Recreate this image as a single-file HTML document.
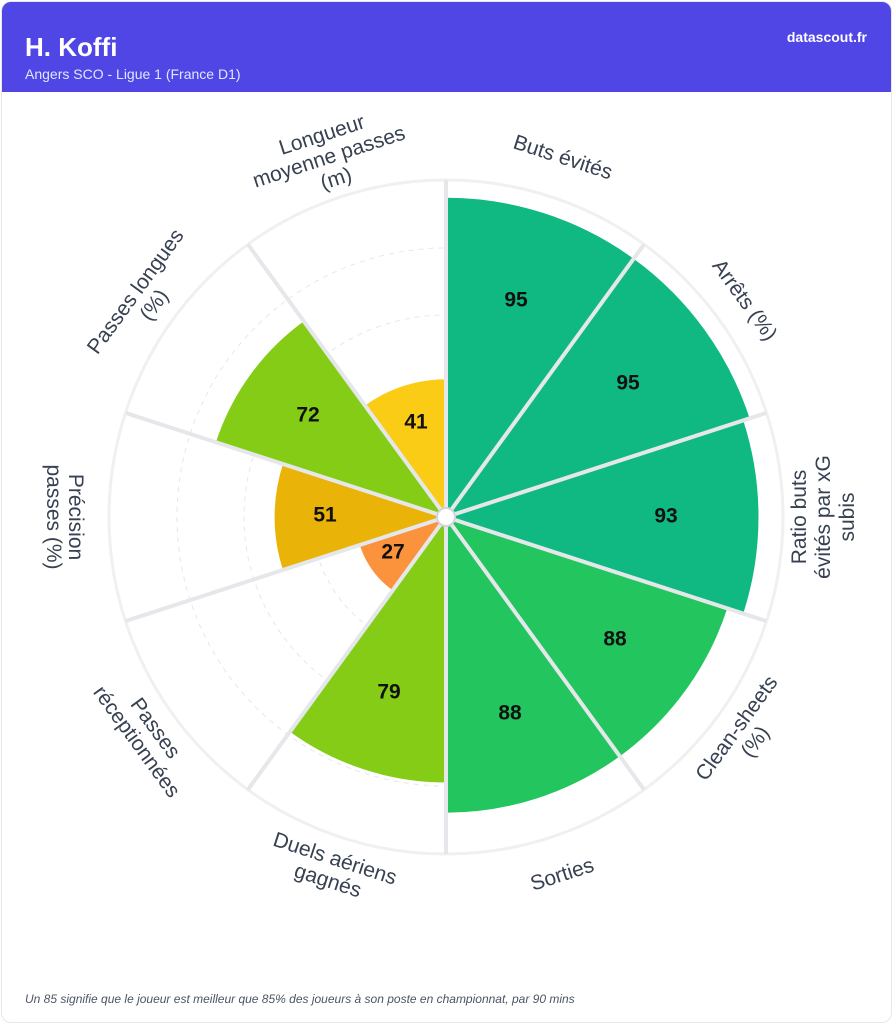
<!DOCTYPE html>
<html><head><meta charset="utf-8"><style>
html,body{margin:0;padding:0;background:#fff;width:893px;height:1024px;overflow:hidden;font-family:"Liberation Sans",Arial,sans-serif}
.card{position:absolute;left:1px;top:1px;width:889px;height:1020px;border:1px solid #e5e7eb;border-radius:10px;overflow:hidden;background:#fff}
.hd{position:absolute;left:0;top:0;width:889px;height:90px;background:#4f46e5;color:#fff}
.t{position:absolute;left:23px;top:30px;font-size:26px;font-weight:bold}
.s{position:absolute;left:23px;top:64px;font-size:14px;color:#e0e7ff}
.d{position:absolute;right:24px;top:27px;font-size:14px;font-weight:bold}
.f{position:absolute;left:23px;top:990px;font-size:12px;font-style:italic;color:#4b5563}
svg{position:absolute;left:0;top:0}
</style></head><body>
<div class="card">
<div class="hd"><div class="t">H. Koffi</div><div class="s">Angers SCO - Ligue 1 (France D1)</div><div class="d">datascout.fr</div></div>
<div class="f">Un 85 signifie que le joueur est meilleur que 85% des joueurs à son poste en championnat, par 90 mins</div>
</div>
<svg width="893" height="1024" viewBox="0 0 893 1024">
<circle cx="446" cy="517" r="337" fill="#fff" stroke="#f0f0f0" stroke-width="3"/>
<g fill="none" stroke="#e5e7eb" stroke-width="1" stroke-dasharray="5 5">
<circle cx="446" cy="517" r="67"/><circle cx="446" cy="517" r="134"/><circle cx="446" cy="517" r="202"/><circle cx="446" cy="517" r="269"/>
</g>
<g>
<path d="M0 0 L0 -1 A1 1 0 0 1 0.5878 -0.8090 Z" fill="#10b981" transform="translate(446 517) rotate(0) scale(319.2)"/>
<path d="M0 0 L0 -1 A1 1 0 0 1 0.5878 -0.8090 Z" fill="#10b981" transform="translate(446 517) rotate(36) scale(319.2)"/>
<path d="M0 0 L0 -1 A1 1 0 0 1 0.5878 -0.8090 Z" fill="#10b981" transform="translate(446 517) rotate(72) scale(312.5)"/>
<path d="M0 0 L0 -1 A1 1 0 0 1 0.5878 -0.8090 Z" fill="#22c55e" transform="translate(446 517) rotate(108) scale(295.7)"/>
<path d="M0 0 L0 -1 A1 1 0 0 1 0.5878 -0.8090 Z" fill="#22c55e" transform="translate(446 517) rotate(144) scale(295.7)"/>
<path d="M0 0 L0 -1 A1 1 0 0 1 0.5878 -0.8090 Z" fill="#84cc16" transform="translate(446 517) rotate(180) scale(265.4)"/>
<path d="M0 0 L0 -1 A1 1 0 0 1 0.5878 -0.8090 Z" fill="#fb923c" transform="translate(446 517) rotate(216) scale(90.7)"/>
<path d="M0 0 L0 -1 A1 1 0 0 1 0.5878 -0.8090 Z" fill="#eab308" transform="translate(446 517) rotate(252) scale(171.4)"/>
<path d="M0 0 L0 -1 A1 1 0 0 1 0.5878 -0.8090 Z" fill="#84cc16" transform="translate(446 517) rotate(288) scale(241.9)"/>
<path d="M0 0 L0 -1 A1 1 0 0 1 0.5878 -0.8090 Z" fill="#facc15" transform="translate(446 517) rotate(324) scale(137.8)"/>
</g>
<g stroke="#e5e7eb" stroke-width="4">
<line x1="446" y1="517" x2="446" y2="180" transform="rotate(0 446 517)"/>
<line x1="446" y1="517" x2="446" y2="180" transform="rotate(36 446 517)"/>
<line x1="446" y1="517" x2="446" y2="180" transform="rotate(72 446 517)"/>
<line x1="446" y1="517" x2="446" y2="180" transform="rotate(108 446 517)"/>
<line x1="446" y1="517" x2="446" y2="180" transform="rotate(144 446 517)"/>
<line x1="446" y1="517" x2="446" y2="180" transform="rotate(180 446 517)"/>
<line x1="446" y1="517" x2="446" y2="180" transform="rotate(216 446 517)"/>
<line x1="446" y1="517" x2="446" y2="180" transform="rotate(252 446 517)"/>
<line x1="446" y1="517" x2="446" y2="180" transform="rotate(288 446 517)"/>
<line x1="446" y1="517" x2="446" y2="180" transform="rotate(324 446 517)"/>
</g>
<circle cx="446" cy="517" r="9" fill="#fff" stroke="#d1d5db" stroke-width="2"/>
<g font-family="Liberation Sans,Arial,sans-serif" font-size="21" font-weight="bold" fill="#111" text-anchor="middle" dominant-baseline="middle">
<text x="516" y="301">95</text><text x="628" y="384">95</text><text x="666" y="517">93</text>
<text x="615" y="640">88</text><text x="510" y="714">88</text><text x="389" y="693">79</text>
<text x="393" y="553">27</text><text x="325" y="516">51</text><text x="308" y="416">72</text><text x="416" y="423">41</text>
</g>
<g font-family="Liberation Sans,Arial,sans-serif" font-size="21" fill="#374151" text-anchor="middle" dominant-baseline="middle">
<text transform="rotate(18 446 517)" x="446" y="140">Buts évités</text>
<text transform="rotate(54 446 517)" x="446" y="149">Arrêts (%)</text>
<text transform="rotate(-90 446 517)" x="446"><tspan x="446" y="871">Ratio buts</tspan><tspan x="446" y="895">évités par xG</tspan><tspan x="446" y="919">subis</tspan></text>
<text transform="rotate(-54 446 517)" x="446"><tspan x="446" y="877">Clean-sheets</tspan><tspan x="446" y="900">(%)</tspan></text>
<text transform="rotate(-18 446 517)" x="446" y="894">Sorties</text>
<text transform="rotate(18 446 517)" x="446"><tspan x="446" y="877">Duels aériens</tspan><tspan x="446" y="900">gagnés</tspan></text>
<text transform="rotate(54 446 517)" x="446"><tspan x="446" y="877">Passes</tspan><tspan x="446" y="900">réceptionnées</tspan></text>
<text transform="rotate(90 446 517)" x="446"><tspan x="446" y="888">Précision</tspan><tspan x="446" y="910">passes (%)</tspan></text>
<text transform="rotate(-54 446 517)" x="446"><tspan x="446" y="134">Passes longues</tspan><tspan x="446" y="157">(%)</tspan></text>
<text transform="rotate(-18 446 517)" x="446"><tspan x="446" y="116">Longueur</tspan><tspan x="446" y="139">moyenne passes</tspan><tspan x="446" y="162">(m)</tspan></text>
</g>
</svg>
</body></html>
